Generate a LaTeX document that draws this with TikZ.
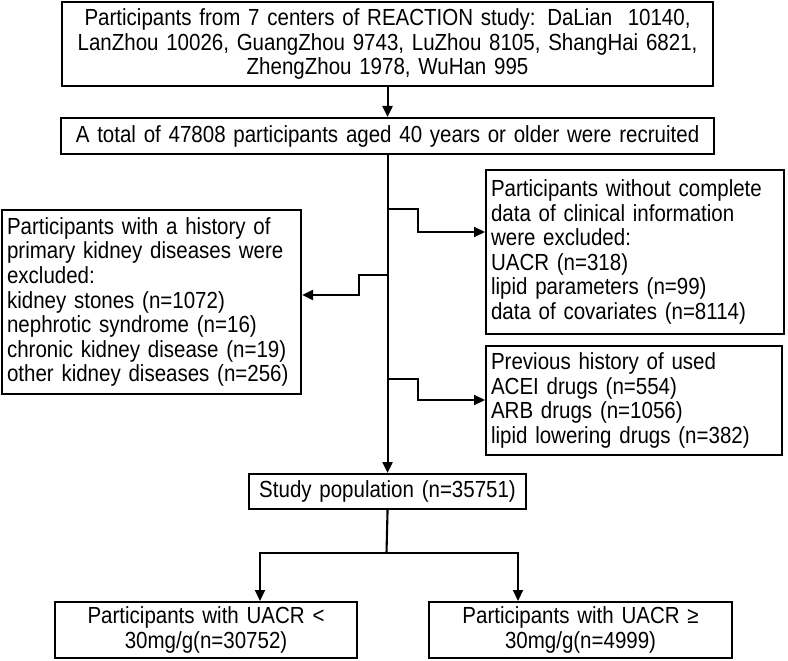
\documentclass[tikz,border=0pt]{standalone}
\usepackage{fontspec}
\setmainfont[FakeStretch=0.88]{Liberation Sans}
\usetikzlibrary{arrows.meta,calc}
\tikzset{
  box/.style={draw, line width=2.1pt, rectangle, anchor=north west, inner xsep=5pt, inner ysep=2pt,
    font=\fontsize{23.3}{24.6}\selectfont},
  lbox/.style={box, align=left},
  cbox/.style={box, align=center},
  conn/.style={line width=2.1pt},
  arr/.style={conn, -{Triangle[length=11pt,width=10pt]}},
}
\begin{document}
\begin{tikzpicture}[x=1pt,y=-1pt]
\useasboundingbox (0,0) rectangle (788,661);
% boxes
\node[cbox, minimum width=651, minimum height=84, text width=641] (b1) at (61,1)
  {Participants from 7 centers of REACTION study: DaLian\ \ 10140,\\
   LanZhou 10026, GuangZhou 9743, LuZhou 8105, ShangHai 6821,\\
   ZhengZhou 1978, WuHan 995};
\node[cbox, minimum width=653, minimum height=36, text width=643] (b2) at (60,117)
  {A total of 47808 participants aged 40 years or older were recruited};
\node[lbox, minimum width=298, minimum height=164, text width=288] (ra) at (485,169)
  {Participants without complete\\
   data of clinical information\\
   were excluded:\\
   UACR (n=318)\\
   lipid parameters (n=99)\\
   data of covariates (n=8114)};
\node[lbox, minimum width=299, minimum height=184, text width=289] (lb) at (1,209)
  {Participants with a history of\\
   primary kidney diseases were\\
   excluded:\\
   kidney stones (n=1072)\\
   nephrotic syndrome (n=16)\\
   chronic kidney disease (n=19)\\
   other kidney diseases (n=256)};
\node[lbox, minimum width=296, minimum height=109, text width=286] (rb) at (485,345)
  {Previous history of used\\
   ACEI drugs (n=554)\\
   ARB drugs (n=1056)\\
   lipid lowering drugs (n=382)};
\node[cbox, minimum width=277, minimum height=35, text width=267] (sp) at (248,473)
  {Study population (n=35751)};
\node[cbox, minimum width=302, minimum height=56, text width=292] (bl) at (54,601)
  {Participants with UACR <\\30mg/g(n=30752)};
\node[cbox, minimum width=303, minimum height=56, text width=293] (br) at (428,601)
  {Participants with UACR ≥\\30mg/g(n=4999)};
% connectors
\draw[arr] (b1.south) -- (b2.north);
\draw[arr] (b2.south) -- (sp.north);
\coordinate (jA) at (386.5,209);
\coordinate (kA) at (418,232);
\draw[arr] (jA) -| (kA) -- (kA -| ra.west);
\coordinate (jL) at (386.5,275);
\coordinate (kL) at (359,295);
\draw[arr] (jL) -| (kL) -- (kL -| lb.east);
\coordinate (jB) at (386.5,379);
\coordinate (kB) at (418,400);
\draw[arr] (jB) -| (kB) -- (kB -| rb.west);
\coordinate (s0) at (386.5,553);
\coordinate (aL) at (260,553);
\coordinate (aR) at (518,553);
\draw[conn] (sp.south) -- (s0);
\draw[conn, line cap=rect] (aL) -- (aR);
\draw[arr] (aL) -- (aL |- bl.north);
\draw[arr] (aR) -- (aR |- br.north);
\end{tikzpicture}
\end{document}
